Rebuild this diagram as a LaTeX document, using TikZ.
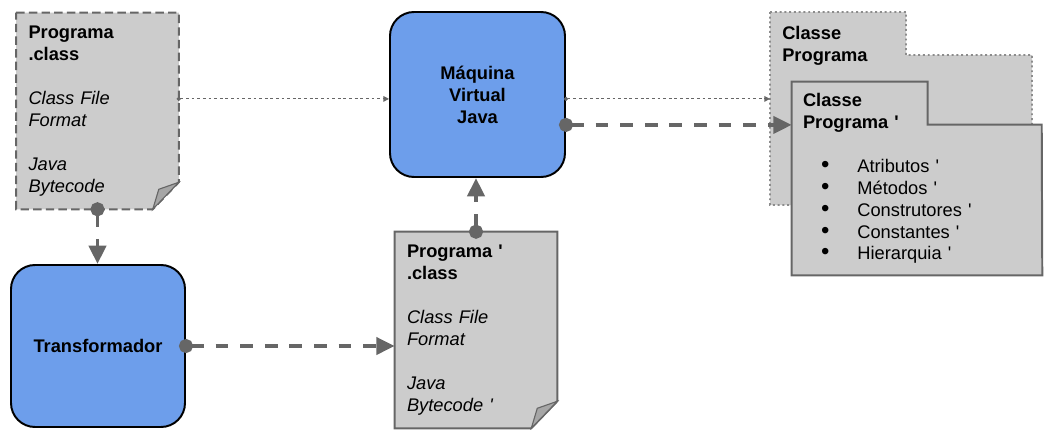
\documentclass[tikz,border=0pt]{standalone}
\usepackage{fontspec}
\setmainfont{Liberation Sans}[Ligatures=TeXOff]
\usetikzlibrary{arrows.meta, calc, backgrounds}
\definecolor{caixa}{HTML}{6D9EEB}
\definecolor{folha}{HTML}{CCCCCC}
\definecolor{traco}{HTML}{666666}
\definecolor{pontos}{HTML}{8C8C8C}

\newcommand{\marca}{\hspace*{0.45cm}{\fontsize{17}{15.6}\selectfont\textbullet}\hspace{0.7cm}}

\begin{document}
\begin{tikzpicture}[
  every node/.style={font=\fontsize{13}{15.6}\selectfont},
  bloco/.style={draw=black, line width=1.4pt, rounded corners=0.6cm, fill=caixa, minimum width=4.375cm, minimum height=4.125cm, align=center, font=\fontsize{13}{15.6}\selectfont\bfseries},
  doc/.style={minimum width=4.05cm, minimum height=4.9cm, text width=3.45cm, inner xsep=0.3cm, align=left},
  fluxo/.style={draw=traco, line width=2.8pt, dash pattern=on 9pt off 8.5pt, shorten <=-5pt, {Circle[length=10pt]}-{Triangle[length=13pt, width=12pt]}},
  fino/.style={draw=traco, line width=0.7pt, dash pattern=on 2pt off 2pt, shorten <=-1.5pt, {Circle[length=3pt]}-{Triangle[length=4pt, width=4pt]}}
]
  \useasboundingbox (0,0) rectangle (26.1,10.725);

  \node[bloco] (mvj) at (11.9375,8.3625) {M\'aquina\\Virtual\\Java};
  \node[bloco, minimum width=4.35cm, minimum height=4.05cm] (transf) at (2.45,2.075) {Transformador};

  \node[doc] (prog) at (2.4375,7.95) {\textbf{Programa}\\\textbf{.class}\\[15.6pt]\textit{Class File}\\\textit{Format}\\[15.6pt]\textit{Java}\\\textit{Bytecode}};
  \node[doc] (prognovo) at (11.9,2.475) {\textbf{Programa '}\\\textbf{.class}\\[15.6pt]\textit{Class File}\\\textit{Format}\\[15.6pt]\textit{Java}\\\textit{Bytecode '}};

  \node[anchor=north west, inner xsep=0.3cm, inner ysep=0.35cm, align=left] (classe) at (19.25,10.425) {\textbf{Classe}\\\textbf{Programa}};
  \node[minimum width=6.25cm, minimum height=4.825cm, text width=5.7cm, inner xsep=0.275cm, align=left] (novaclasse) at (22.925,6.2625) {\textbf{Classe}\\\textbf{Programa '}\\[15.6pt]
    \marca Atributos '\\
    \marca M\'etodos '\\
    \marca Construtores '\\
    \marca Constantes '\\
    \marca Hierarquia '};

  \begin{scope}[on background layer]
    % pastas das classes
    \draw[draw=pontos, line width=1.4pt, dash pattern=on 1.4pt off 2pt, fill=folha] (classe.north west) -- ++(3.4,0) -- ++(0,-1.075) -- ++(3.15,0) -- ++(0,-3.75) -- ++(-6.55,0) -- cycle;
    \draw[draw=traco, line width=1.4pt, fill=folha] (novaclasse.north west) -- ++(3.4,0) -- ++(0,-1.075) -- ++(2.85,0) -- (novaclasse.south east) -- (novaclasse.south west) -- cycle;
    % folhas com canto dobrado
    \draw[draw=traco, line width=1.4pt, dash pattern=on 6pt off 3pt, fill=folha] (prog.north west) -- (prog.north east) -- ($(prog.south east)+(0,0.675)$) -- ($(prog.south east)+(-0.65,0)$) -- (prog.south west) -- cycle;
    \draw[draw=traco, line width=0.8pt, fill=gray!70] ($(prog.south east)+(0,0.675)$) -- ($(prog.south east)+(-0.5,0.5)$) -- ($(prog.south east)+(-0.65,0)$) -- cycle;
    \draw[draw=traco, line width=1.4pt, fill=folha] (prognovo.north west) -- (prognovo.north east) -- ($(prognovo.south east)+(0,0.675)$) -- ($(prognovo.south east)+(-0.65,0)$) -- (prognovo.south west) -- cycle;
    \draw[draw=traco, line width=0.8pt, fill=gray!70] ($(prognovo.south east)+(0,0.675)$) -- ($(prognovo.south east)+(-0.5,0.5)$) -- ($(prognovo.south east)+(-0.65,0)$) -- cycle;
  \end{scope}

  \coordinate (e1) at ([yshift=-0.11cm]mvj.west);
  \coordinate (s1) at ([yshift=-0.11cm]mvj.east);
  \coordinate (s2) at ([yshift=-0.76cm]mvj.east);

  \draw[fino] (prog.east |- e1) -- (e1);
  \draw[fino] (s1) -- (s1 -| classe.west);
  \draw[fluxo] (s2) -- (s2 -| novaclasse.west);
  \draw[fluxo] (prog.south) -- (prog.south |- transf.north);
  \draw[fluxo] (transf.east) -- (transf.east -| prognovo.west);
  \draw[fluxo] (prognovo.north) -- (prognovo.north |- mvj.south);
\end{tikzpicture}
\end{document}
